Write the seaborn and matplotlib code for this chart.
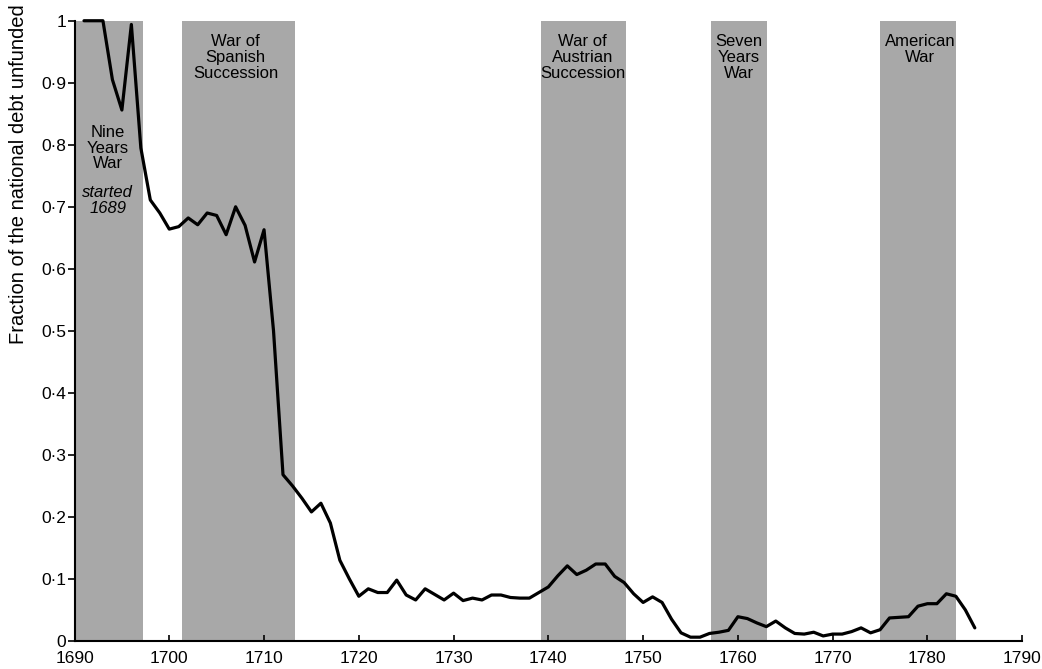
import matplotlib
matplotlib.use("Agg")
import matplotlib.pyplot as plt
import seaborn as sns
import pandas as pd

# ---- data ----
years = list(range(1691, 1786))
fraction_unfunded = [
    1.000, 1.000, 1.000, 0.905, 0.856, 0.994, 0.795, 0.711, 0.690, 0.664,   # 1691-1700
    0.668, 0.682, 0.671, 0.690, 0.686, 0.655, 0.700, 0.670, 0.611, 0.663,   # 1701-1710
    0.500, 0.268, 0.250, 0.230, 0.208, 0.222, 0.190, 0.130, 0.100, 0.072,   # 1711-1720
    0.084, 0.078, 0.078, 0.098, 0.074, 0.066, 0.084, 0.075, 0.066, 0.077,   # 1721-1730
    0.065, 0.069, 0.066, 0.074, 0.074, 0.070, 0.069, 0.069, 0.078, 0.087,   # 1731-1740
    0.105, 0.121, 0.107, 0.114, 0.124, 0.124, 0.104, 0.094, 0.076, 0.062,   # 1741-1750
    0.071, 0.062, 0.035, 0.013, 0.006, 0.006, 0.012, 0.014, 0.017, 0.039,   # 1751-1760
    0.036, 0.029, 0.023, 0.032, 0.021, 0.012, 0.011, 0.014, 0.008, 0.011,   # 1761-1770
    0.011, 0.015, 0.021, 0.013, 0.018, 0.037, 0.038, 0.039, 0.056, 0.060,   # 1771-1780
    0.060, 0.076, 0.072, 0.050, 0.021,                                       # 1781-1785
]

war_names = ["Nine\nYears\nWar", "War of\nSpanish\nSuccession", "War of\nAustrian\nSuccession",
             "Seven\nYears\nWar", "American\nWar"]
war_starts = [1689.0, 1701.3, 1739.2, 1757.2, 1775.0]
war_ends = [1697.2, 1713.3, 1748.2, 1763.1, 1783.0]
war_label_x = [1693.5, 1707.0, 1743.6, 1760.1, 1779.2]
war_label_y = [0.832, 0.978, 0.978, 0.978, 0.978]
nine_years_note = "started\n1689"

ytick_values = [0, 0.1, 0.2, 0.3, 0.4, 0.5, 0.6, 0.7, 0.8, 0.9, 1.0]
ytick_labels = ["0", "0·1", "0·2", "0·3", "0·4", "0·5", "0·6", "0·7", "0·8", "0·9", "1"]
xtick_values = list(range(1690, 1791, 10))
ylabel_text = "Fraction of the national debt unfunded"

# ---- style ----
sns.set_theme(style="white")
plt.rcParams["font.family"] = ["Liberation Sans", "DejaVu Sans"]

df = pd.DataFrame({"year": years, "fraction": fraction_unfunded})

fig = plt.figure(figsize=(10.42, 6.69), dpi=100)
ax = fig.add_axes([0.0715, 0.042, 0.9095, 0.927])

for s, e in zip(war_starts, war_ends):
    ax.axvspan(s, e, ymin=0, ymax=1, color="#a8a8a8", lw=0, zorder=0)

sns.lineplot(data=df, x="year", y="fraction", ax=ax, color="black", linewidth=2.3,
             zorder=3, clip_on=False)

for name, x, y in zip(war_names, war_label_x, war_label_y):
    ax.text(x, y, name, ha="center", va="top", fontsize=12, color="black",
            linespacing=1.05, zorder=4)
ax.text(war_label_x[0], 0.735, nine_years_note, ha="center", va="top", fontsize=12,
        style="italic", color="black", linespacing=1.05, zorder=4)

ax.set_xlim(1690, 1790)
ax.set_ylim(0, 1)
ax.set_xticks(xtick_values)
ax.set_xticklabels([str(v) for v in xtick_values])
ax.set_yticks(ytick_values)
ax.set_yticklabels(ytick_labels)
ax.set_xlabel("")
ax.set_ylabel("")

for side in ["top", "right"]:
    ax.spines[side].set_visible(False)
for side in ["left", "bottom"]:
    ax.spines[side].set_color("black")
    ax.spines[side].set_linewidth(1.5)

ax.tick_params(axis="x", direction="in", length=4, width=1.2, colors="black",
               labelsize=12.5, pad=7, bottom=True)
ax.tick_params(axis="y", direction="out", length=5, width=1.2, colors="black",
               labelsize=12.5, pad=1, left=True)

fig.text(19 / 1042, 1 - 174 / 669, ylabel_text, rotation=90, ha="center", va="center",
         fontsize=14.5, color="black")

fig.savefig("out.png", dpi=100)
